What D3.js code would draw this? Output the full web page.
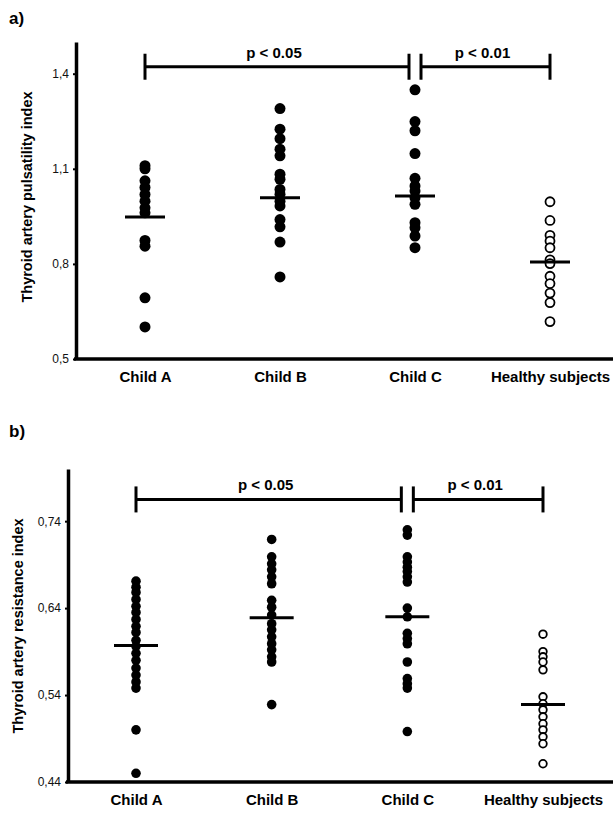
<!DOCTYPE html>
<html>
<head>
<meta charset="utf-8">
<script src="https://cdn.jsdelivr.net/npm/d3@7"></script>
<style>
  body { margin: 0; background: #fff; }
  svg { display: block; font-family: "Liberation Sans", Arial, sans-serif; }
</style>
</head>
<body>
<div id="chart"></div>
<script>
(function () {
'use strict';
// Thyroid artery Doppler indices — two dot plots (a: pulsatility, b: resistance)

const groups = ["Child A", "Child B", "Child C", "Healthy subjects"];

// panel a) pulsatility index
const piChildA  = [1.11, 1.10, 1.062, 1.041, 1.019, 0.998, 0.977, 0.961, 0.874, 0.856, 0.693, 0.601];
const piChildB  = [1.29, 1.225, 1.195, 1.162, 1.141, 1.083, 1.067, 1.035, 1.02, 0.998, 0.983, 0.94, 0.917, 0.869, 0.759];
const piChildC  = [1.349, 1.249, 1.22, 1.148, 1.07, 1.046, 1.03, 1.009, 0.988, 0.93, 0.914, 0.888, 0.851];
const piHealthy = [0.996, 0.937, 0.89, 0.872, 0.851, 0.813, 0.801, 0.761, 0.738, 0.708, 0.678, 0.618];
const piMedians = [0.948, 1.009, 1.014, 0.806];
const piTicks   = [0.5, 0.8, 1.1, 1.4];

// panel b) resistance index
const riChildA  = [0.671, 0.664, 0.658, 0.650, 0.642, 0.635, 0.627, 0.619, 0.612, 0.603, 0.596, 0.588, 0.580, 0.571, 0.563, 0.555, 0.548, 0.500, 0.450];
const riChildB  = [0.719, 0.699, 0.691, 0.684, 0.676, 0.668, 0.649, 0.641, 0.632, 0.622, 0.615, 0.607, 0.599, 0.592, 0.584, 0.578, 0.529];
const riChildC  = [0.730, 0.724, 0.699, 0.693, 0.687, 0.682, 0.676, 0.670, 0.640, 0.630, 0.611, 0.605, 0.599, 0.578, 0.559, 0.553, 0.548, 0.498];
const riHealthy = [0.610, 0.590, 0.584, 0.578, 0.569, 0.538, 0.530, 0.523, 0.515, 0.507, 0.500, 0.492, 0.484, 0.461];
const riMedians = [0.597, 0.629, 0.630, 0.529];
const riTicks   = [0.44, 0.54, 0.64, 0.74];

// significance brackets
const bracketFrom   = ["Child A", "Child C"];
const bracketTo     = ["Child C", "Healthy subjects"];
const bracketLabels = ["p < 0.05", "p < 0.01"];

const W = 613, H = 814;
const svg = d3.select("#chart").append("svg")
  .attr("width", W).attr("height", H)
  .attr("viewBox", `0 0 ${W} ${H}`);

const fmtTick = d => String(d).replace(".", ",");

function drawPanel(cfg) {
  const g = svg.append("g");

  const y = d3.scaleLinear().domain(cfg.yDomain).range(cfg.yRange);
  const x = d3.scalePoint().domain(groups).range(cfg.xRange);

  // y axis
  const yAxisG = g.append("g")
    .attr("transform", `translate(${cfg.axisX},0)`)
    .call(d3.axisLeft(y).tickValues(cfg.ticks).tickFormat(fmtTick)
      .tickSize(3).tickSizeOuter(0).tickPadding(4));
  yAxisG.select(".domain").attr("stroke", "#000").attr("stroke-width", 3.5);
  yAxisG.selectAll(".tick line").attr("stroke", "#000").attr("stroke-width", 2);
  yAxisG.selectAll("text").attr("font-size", 12).attr("fill", "#111")
    .attr("font-family", "Liberation Sans, Arial, sans-serif");

  // x baseline
  g.append("line")
    .attr("x1", cfg.axisX - 2).attr("x2", W)
    .attr("y1", y(cfg.yDomain[0])).attr("y2", y(cfg.yDomain[0]))
    .attr("stroke", "#000").attr("stroke-width", 3.5);

  // x labels
  const xAxisG = g.append("g")
    .attr("transform", `translate(0,${y(cfg.yDomain[0])})`)
    .call(d3.axisBottom(x).tickSize(0).tickPadding(cfg.xLabelPad));
  xAxisG.select(".domain").remove();
  xAxisG.selectAll("text").attr("font-size", 15).attr("font-weight", "bold")
    .attr("fill", "#000").attr("font-family", "Liberation Sans, Arial, sans-serif");

  // y title
  g.append("text")
    .attr("transform", `translate(${cfg.titleX},${cfg.titleY}) rotate(-90)`)
    .attr("text-anchor", "middle")
    .attr("font-size", 14.5).attr("font-weight", "bold")
    .text(cfg.yTitle);

  // panel letter
  g.append("text")
    .attr("x", cfg.letterX).attr("y", cfg.letterY)
    .attr("font-size", 17).attr("font-weight", "bold")
    .text(cfg.letter);

  // dots
  cfg.series.forEach((vals, i) => {
    const open = groups[i] === "Healthy subjects";
    g.append("g").selectAll("circle").data(vals).join("circle")
      .attr("cx", x(groups[i]))
      .attr("cy", d => y(d))
      .attr("r", open ? cfg.rOpen : cfg.r)
      .attr("fill", open ? "#fff" : "#000")
      .attr("stroke", "#000")
      .attr("stroke-width", open ? 1.8 : 0);
  });

  // median bars
  g.append("g").selectAll("line").data(cfg.medians).join("line")
    .attr("x1", (d, i) => x(groups[i]) - cfg.medHalf)
    .attr("x2", (d, i) => x(groups[i]) + cfg.medHalf)
    .attr("y1", d => y(d)).attr("y2", d => y(d))
    .attr("stroke", "#000").attr("stroke-width", 3);

  // brackets
  const by = y(cfg.bracketLevel);
  const gap = 6;
  bracketLabels.forEach((lab, i) => {
    const x1 = x(bracketFrom[i]) + (bracketFrom[i] === "Child C" ? gap : 0);
    const x2 = x(bracketTo[i]) - (bracketTo[i] === "Child C" ? gap : 0);
    const bg = g.append("g");
    bg.append("line").attr("x1", x1).attr("x2", x2).attr("y1", by).attr("y2", by)
      .attr("stroke", "#000").attr("stroke-width", 3);
    [x1, x2].forEach(xx => {
      bg.append("line").attr("x1", xx).attr("x2", xx)
        .attr("y1", by - 13).attr("y2", by + 13)
        .attr("stroke", "#000").attr("stroke-width", 3);
    });
    bg.append("text")
      .attr("x", (x1 + x2) / 2 - 3).attr("y", by - 9)
      .attr("text-anchor", "middle")
      .attr("font-size", 15).attr("font-weight", "bold")
      .text(lab);
  });
}

drawPanel({
  letter: "a)", letterX: 9, letterY: 24,
  yTitle: "Thyroid artery pulsatility index", titleX: 32, titleY: 197,
  axisX: 76, yDomain: [0.5, 1.5], yRange: [359, 42],
  xRange: [145, 550], xLabelPad: 12,
  ticks: piTicks,
  series: [piChildA, piChildB, piChildC, piHealthy],
  medians: piMedians, medHalf: 20,
  r: 5.5, rOpen: 4.5,
  bracketLevel: 1.422
});

drawPanel({
  letter: "b)", letterX: 9, letterY: 437,
  yTitle: "Thyroid artery resistance index", titleX: 23, titleY: 626,
  axisX: 68, yDomain: [0.44, 0.80], yRange: [782, 469],
  xRange: [136, 543], xLabelPad: 12,
  ticks: riTicks,
  series: [riChildA, riChildB, riChildC, riHealthy],
  medians: riMedians, medHalf: 22,
  r: 4.8, rOpen: 3.8,
  bracketLevel: 0.765
});
})();
</script>
</body>
</html>
